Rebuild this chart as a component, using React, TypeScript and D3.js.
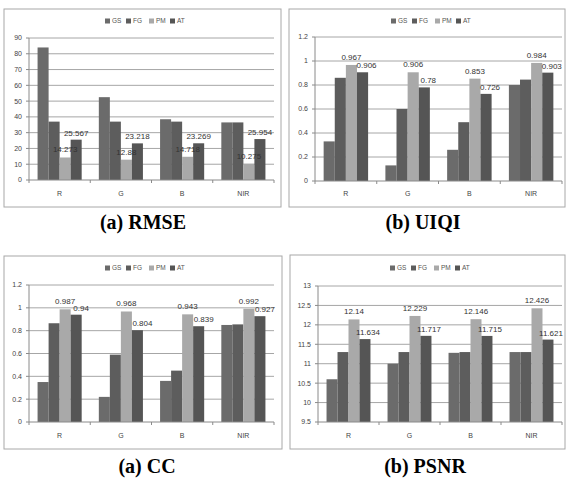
import React from "react";
import * as d3 from "d3";

const categories = ["R", "G", "B", "NIR"];
const seriesNames = ["GS", "FG", "PM", "AT"];
const seriesColors = ["#6b6b6b", "#5d5d5d", "#a9a9a9", "#555555"];
// only PM and AT carry value labels in the source figure
const labelledSeries = [2, 3];

const rmseGS = [84, 52.5, 38.5, 36.5];
const rmseFG = [37, 37, 37, 36.5];
const rmsePM = [14.273, 12.88, 14.718, 10.275];
const rmseAT = [25.567, 23.218, 23.269, 25.954];
const rmseTicks = [0, 10, 20, 30, 40, 50, 60, 70, 80, 90];

const uiqiGS = [0.33, 0.13, 0.26, 0.8];
const uiqiFG = [0.86, 0.6, 0.49, 0.845];
const uiqiPM = [0.967, 0.906, 0.853, 0.984];
const uiqiAT = [0.906, 0.78, 0.726, 0.903];
const unitTicks = [0, 0.2, 0.4, 0.6, 0.8, 1, 1.2];

const ccGS = [0.35, 0.22, 0.36, 0.85];
const ccFG = [0.865, 0.59, 0.45, 0.855];
const ccPM = [0.987, 0.968, 0.943, 0.992];
const ccAT = [0.94, 0.804, 0.839, 0.927];

const psnrGS = [10.6, 11.0, 11.28, 11.3];
const psnrFG = [11.3, 11.3, 11.3, 11.3];
const psnrPM = [12.14, 12.229, 12.146, 12.426];
const psnrAT = [11.634, 11.717, 11.715, 11.621];
const psnrTicks = [9.5, 10, 10.5, 11, 11.5, 12, 12.5, 13];

const FONT = "'Liberation Sans', Arial, sans-serif";

const Panel = ({ box, plot, legendY, legendX, catY, ticks, series, title, titleX, titleY, atDx }) => {
  const x = d3
    .scaleBand()
    .domain(categories)
    .range([plot.left, plot.right])
    .paddingInner(0.28)
    .paddingOuter(0.14);
  const xs = d3.scaleBand().domain(seriesNames).range([0, x.bandwidth()]);
  const y = d3
    .scaleLinear()
    .domain([ticks[0], ticks[ticks.length - 1]])
    .range([plot.bottom, plot.top]);
  const step = x.step();
  const bounds = d3.range(categories.length + 1).map((i) => plot.left + i * step);

  return (
    <g>
      <rect x={box.x0} y={box.y0} width={box.x1 - box.x0} height={box.y1 - box.y0} fill="#fff" stroke="#a8a8a8" />
      {ticks.map((t) => (
        <g key={t}>
          {t !== ticks[0] && (
            <line x1={plot.left} x2={plot.right} y1={y(t)} y2={y(t)} stroke="#a6a6a6" strokeWidth={1} />
          )}
          <line x1={plot.left - 3} x2={plot.left} y1={y(t)} y2={y(t)} stroke="#8a8a8a" />
          <text x={plot.left - 7} y={y(t)} dy="0.35em" textAnchor="end" fontSize={7} fill="#444" fontFamily={FONT}>
            {t}
          </text>
        </g>
      ))}
      {categories.map((c, ci) =>
        series.map((vals, si) => (
          <rect
            key={c + si}
            x={x(c) + xs(seriesNames[si])}
            y={y(vals[ci])}
            width={xs.bandwidth()}
            height={y(ticks[0]) - y(vals[ci])}
            fill={seriesColors[si]}
          />
        ))
      )}
      {categories.map((c, ci) =>
        labelledSeries.map((si) => (
          <text
            key={"l" + c + si}
            x={x(c) + xs(seriesNames[si]) + xs.bandwidth() / 2 + (si === 3 ? atDx : 0)}
            y={y(series[si][ci]) - (si === 2 ? 5 : 4)}
            textAnchor="middle"
            fontSize={8}
            fill="#333"
            fontFamily={FONT}
          >
            {String(series[si][ci])}
          </text>
        ))
      )}
      <line x1={plot.left} x2={plot.left} y1={plot.top} y2={plot.bottom} stroke="#8a8a8a" />
      <line x1={plot.left} x2={plot.right} y1={plot.bottom} y2={plot.bottom} stroke="#8a8a8a" />
      {bounds.map((b, i) => (
        <line key={i} x1={b} x2={b} y1={plot.bottom} y2={plot.bottom + 3} stroke="#8a8a8a" />
      ))}
      {categories.map((c) => (
        <text key={c} x={x(c) + x.bandwidth() / 2} y={catY} dy="0.35em" textAnchor="middle" fontSize={7} fill="#444" fontFamily={FONT}>
          {c}
        </text>
      ))}
      {seriesNames.map((s, i) => {
        const lx = legendX - 40 + i * 21 + (i >= 2 ? 2 : 0);
        return (
          <g key={s}>
            <rect x={lx} y={legendY - 2.5} width={5} height={5} fill={seriesColors[i]} />
            <text x={lx + 7} y={legendY} dy="0.35em" fontSize={6.5} fill="#555" fontFamily={FONT}>
              {s}
            </text>
          </g>
        );
      })}
      <text
        x={titleX}
        y={titleY}
        dy="0.35em"
        textAnchor="middle"
        fontSize={20}
        fontWeight="bold"
        fontFamily="'Liberation Serif', 'Times New Roman', serif"
        fill="#000"
      >
        {title}
      </text>
    </g>
  );
};

export default function App() {
  return (
    <div style={{ position: "absolute", left: 0, top: 0 }}>
      <svg width={566} height={479} style={{ display: "block", background: "#fff" }}>
        <Panel
          box={{ x0: 4, y0: 9, x1: 281, y1: 207 }}
          plot={{ left: 29, right: 274, top: 38, bottom: 180 }}
          legendY={21}
          legendX={145}
          catY={194}
          ticks={rmseTicks}
          series={[rmseGS, rmseFG, rmsePM, rmseAT]}
          title="(a) RMSE"
          titleX={143}
          titleY={222}
          atDx={0}
        />
        <Panel
          box={{ x0: 289, y0: 9, x1: 565, y1: 207 }}
          plot={{ left: 315, right: 562, top: 37, bottom: 181 }}
          legendY={21}
          legendX={431}
          catY={194}
          ticks={unitTicks}
          series={[uiqiGS, uiqiFG, uiqiPM, uiqiAT]}
          title="(b) UIQI"
          titleX={423}
          titleY={222}
          atDx={4}
        />
        <Panel
          box={{ x0: 4, y0: 256, x1: 282, y1: 449 }}
          plot={{ left: 29, right: 274, top: 285, bottom: 422 }}
          legendY={268}
          legendX={145}
          catY={436}
          ticks={unitTicks}
          series={[ccGS, ccFG, ccPM, ccAT]}
          title="(a) CC"
          titleX={147}
          titleY={466}
          atDx={5}
        />
        <Panel
          box={{ x0: 290, y0: 255, x1: 565, y1: 449 }}
          plot={{ left: 318, right: 562, top: 286, bottom: 422 }}
          legendY={268}
          legendX={430}
          catY={436}
          ticks={psnrTicks}
          series={[psnrGS, psnrFG, psnrPM, psnrAT]}
          title="(b) PSNR"
          titleX={425}
          titleY={466}
          atDx={3}
        />
      </svg>
    </div>
  );
}
